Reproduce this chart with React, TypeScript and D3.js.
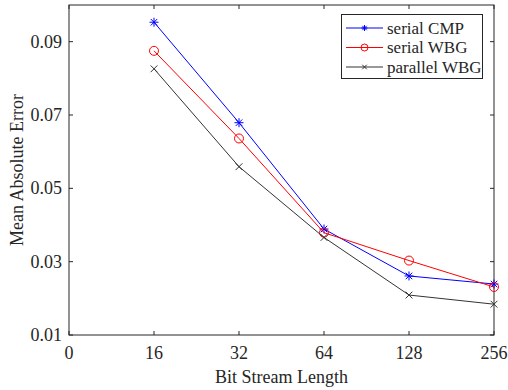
import React from "react";
import * as d3 from "d3";

const categories = ["0", "16", "32", "64", "128", "256"];
const dataCategories = ["16", "32", "64", "128", "256"];
const serialCMP = [0.0953, 0.0679, 0.0389, 0.0261, 0.0239];
const serialWBG = [0.0875, 0.0636, 0.0379, 0.0303, 0.0231];
const parallelWBG = [0.0826, 0.0559, 0.0366, 0.0209, 0.0184];
const yTicks = [0.01, 0.03, 0.05, 0.07, 0.09];
const yTickLabels = ["0.01", "0.03", "0.05", "0.07", "0.09"];

const W = 508, H = 390;
const left = 69, right = 494, top = 5, bottom = 335;
const font = "'Liberation Serif', 'Times New Roman', serif";
const axisColor = "#262626";

type Series = { name: string; values: number[]; color: string; marker: "star" | "circle" | "x" };
const series: Series[] = [
  { name: "serial CMP", values: serialCMP, color: "#0000ff", marker: "star" },
  { name: "serial WBG", values: serialWBG, color: "#ff0000", marker: "circle" },
  { name: "parallel WBG", values: parallelWBG, color: "#333333", marker: "x" },
];

function Marker({ kind, x, y, s, color }: { kind: string; x: number; y: number; s: number; color: string }) {
  if (kind === "circle") {
    return <circle cx={x} cy={y} r={s} fill="none" stroke={color} strokeWidth={1} />;
  }
  if (kind === "x") {
    const d = s * 0.75;
    return (
      <path d={`M${x - d},${y - d}L${x + d},${y + d}M${x - d},${y + d}L${x + d},${y - d}`} stroke={color} strokeWidth={1} />
    );
  }
  const d = s * 0.72;
  return (
    <path
      d={`M${x - s},${y}L${x + s},${y}M${x},${y - s}L${x},${y + s}M${x - d},${y - d}L${x + d},${y + d}M${x - d},${y + d}L${x + d},${y - d}`}
      stroke={color}
      strokeWidth={1}
    />
  );
}

export default function App() {
  const x = d3.scalePoint<string>().domain(categories).range([left, right]);
  const y = d3.scaleLinear().domain([0.01, 0.1]).range([bottom, top]);
  const line = d3
    .line<number>()
    .x((_, i) => x(dataCategories[i]) as number)
    .y((v) => y(v));

  const legX = 341.5, legY = 14.5, legW = 141, legH = 64;
  return (
    <svg width={W} height={H} style={{ position: "absolute", left: 0, top: 0, background: "#fff" }} fontFamily={font}>
      <rect x={0} y={0} width={W} height={H} fill="#fff" />
      <rect x={left} y={top} width={right - left} height={bottom - top} fill="none" stroke={axisColor} strokeWidth={1} />
      {categories.map((c) => {
        const px = x(c) as number;
        return (
          <g key={c}>
            <line x1={px} x2={px} y1={bottom} y2={bottom - 4} stroke={axisColor} />
            <line x1={px} x2={px} y1={top} y2={top + 4} stroke={axisColor} />
            <text x={px} y={359} textAnchor="middle" fontSize={18} fill={axisColor}>
              {c}
            </text>
          </g>
        );
      })}
      {yTicks.map((t, i) => {
        const py = y(t);
        return (
          <g key={t}>
            <line x1={left} x2={left + 4} y1={py} y2={py} stroke={axisColor} />
            <line x1={right} x2={right - 4} y1={py} y2={py} stroke={axisColor} />
            <text x={62} y={py + 6} textAnchor="end" fontSize={18} fill={axisColor}>
              {yTickLabels[i]}
            </text>
          </g>
        );
      })}
      <text x={(left + right) / 2} y={382.5} textAnchor="middle" fontSize={18} fill={axisColor}>
        Bit Stream Length
      </text>
      <text transform={`translate(23,${(top + bottom) / 2}) rotate(-90)`} textAnchor="middle" fontSize={18} fill={axisColor}>
        Mean Absolute Error
      </text>
      {series.map((s) => (
        <g key={s.name}>
          <path d={line(s.values) || ""} fill="none" stroke={s.color} strokeWidth={1} />
          {s.values.map((v, i) => (
            <Marker key={i} kind={s.marker} x={x(dataCategories[i]) as number} y={y(v)} s={4.5} color={s.color} />
          ))}
        </g>
      ))}
      <rect x={legX} y={legY} width={legW} height={legH} fill="#fff" stroke={axisColor} strokeWidth={1} />
      {series.map((s, i) => {
        const ly = 28 + i * 19.5;
        return (
          <g key={s.name}>
            <line x1={346} x2={383} y1={ly} y2={ly} stroke={s.color} />
            <Marker kind={s.marker} x={364.5} y={ly} s={s.marker === "circle" ? 3.5 : 3} color={s.color} />
            <text x={387} y={ly + 5.5} fontSize={17} fill={axisColor}>
              {s.name}
            </text>
          </g>
        );
      })}
    </svg>
  );
}
